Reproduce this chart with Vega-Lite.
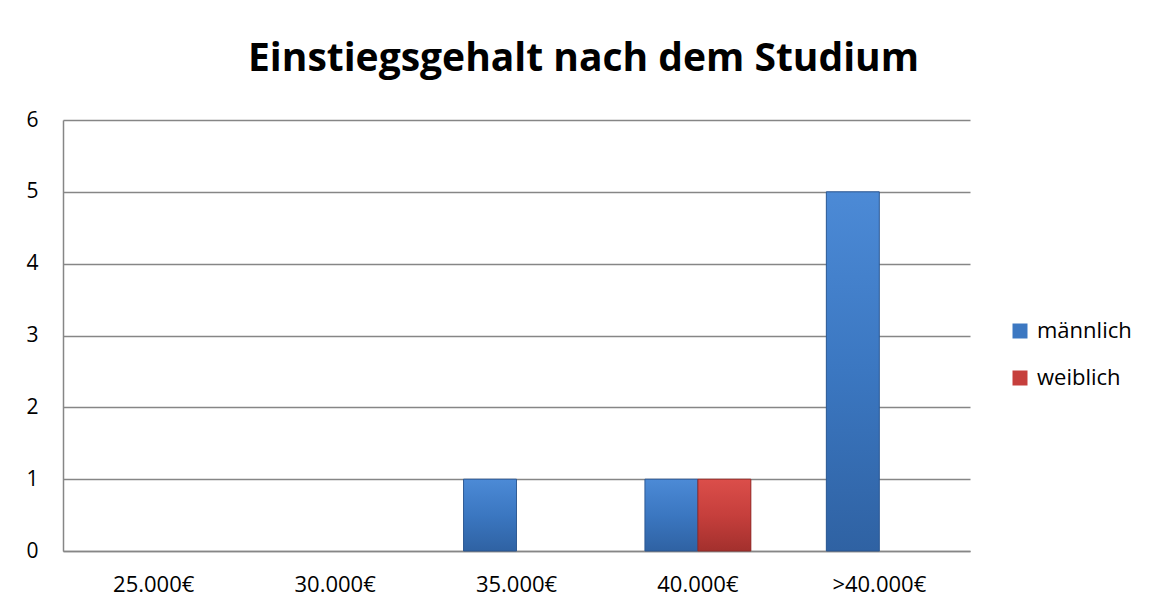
{
  "$schema": "https://vega.github.io/schema/vega-lite/v6.json",
  "autosize": {"type": "none"},
  "width": 907,
  "height": 431,
  "padding": {"left": 63, "top": 120, "right": 182, "bottom": 61},
  "background": "white",
  "title": {
    "text": "Einstiegsgehalt nach dem Studium",
    "font": "Open Sans",
    "fontSize": 39,
    "fontWeight": "bold",
    "color": "black",
    "anchor": "middle",
    "baseline": "alphabetic",
    "offset": -1,
    "dx": 67
  },
  "data": {
    "values": [
      {"gehalt": "25.000€", "geschlecht": "männlich", "anzahl": 0},
      {"gehalt": "25.000€", "geschlecht": "weiblich", "anzahl": 0},
      {"gehalt": "30.000€", "geschlecht": "männlich", "anzahl": 0},
      {"gehalt": "30.000€", "geschlecht": "weiblich", "anzahl": 0},
      {"gehalt": "35.000€", "geschlecht": "männlich", "anzahl": 1},
      {"gehalt": "35.000€", "geschlecht": "weiblich", "anzahl": 0},
      {"gehalt": "40.000€", "geschlecht": "männlich", "anzahl": 1},
      {"gehalt": "40.000€", "geschlecht": "weiblich", "anzahl": 1},
      {"gehalt": ">40.000€", "geschlecht": "männlich", "anzahl": 5},
      {"gehalt": ">40.000€", "geschlecht": "weiblich", "anzahl": 0}
    ]
  },
  "encoding": {
    "x": {
      "field": "gehalt",
      "type": "nominal",
      "sort": ["25.000€", "30.000€", "35.000€", "40.000€", ">40.000€"],
      "scale": {"paddingInner": 0.416, "paddingOuter": 0.208},
      "axis": {
        "title": null,
        "labelAngle": 0,
        "labelFont": "Open Sans",
        "labelFontSize": 22,
        "labelColor": "black",
        "labelPadding": 23,
        "ticks": false,
        "tickSize": 0,
        "domainColor": "#868686",
        "domainWidth": 1.5,
        "grid": false
      }
    },
    "xOffset": {"field": "geschlecht", "type": "nominal", "sort": ["männlich", "weiblich"]},
    "y": {
      "field": "anzahl",
      "type": "quantitative",
      "scale": {"domain": [0, 6], "nice": false},
      "axis": {
        "title": null,
        "values": [0, 1, 2, 3, 4, 5, 6],
        "labelFont": "Open Sans",
        "labelFontSize": 21,
        "labelColor": "black",
        "labelPadding": 25,
        "ticks": false,
        "tickSize": 0,
        "domainColor": "#868686",
        "domainWidth": 1.5,
        "gridColor": "#868686",
        "gridWidth": 1.5
      }
    }
  },
  "layer": [
    {
      "mark": {"type": "bar"},
      "encoding": {
        "color": {
          "field": "geschlecht",
          "type": "nominal",
          "scale": {"domain": ["männlich", "weiblich"], "range": ["#3c78c2", "#c63f3c"]},
          "legend": {
            "title": null,
            "orient": "none",
            "legendX": 946,
            "legendY": 200,
            "symbolType": "square",
            "symbolSize": 225,
            "symbolStrokeWidth": 0,
            "labelFont": "Open Sans",
            "labelFontSize": 22,
            "labelColor": "black",
            "labelOffset": 6,
            "rowPadding": 25
          }
        }
      }
    },
    {
      "transform": [{"filter": "datum.geschlecht === 'männlich' && datum.anzahl > 0"}],
      "mark": {
        "type": "bar",
        "fill": {
          "gradient": "linear",
          "x1": 0, "y1": 0, "x2": 0, "y2": 1,
          "stops": [
            {"offset": 0, "color": "#4c8ad6"},
            {"offset": 0.5, "color": "#3b77c1"},
            {"offset": 1, "color": "#2f62a3"}
          ]
        },
        "stroke": "#2a558e",
        "strokeWidth": 1,
        "strokeOpacity": 0.9
      }
    },
    {
      "transform": [{"filter": "datum.geschlecht === 'weiblich' && datum.anzahl > 0"}],
      "mark": {
        "type": "bar",
        "fill": {
          "gradient": "linear",
          "x1": 0, "y1": 0, "x2": 0, "y2": 1,
          "stops": [
            {"offset": 0, "color": "#db4e4a"},
            {"offset": 0.5, "color": "#c63f3c"},
            {"offset": 1, "color": "#a3302d"}
          ]
        },
        "stroke": "#8e2a28",
        "strokeWidth": 1,
        "strokeOpacity": 0.9
      }
    }
  ],
  "config": {"view": {"stroke": null}}
}
